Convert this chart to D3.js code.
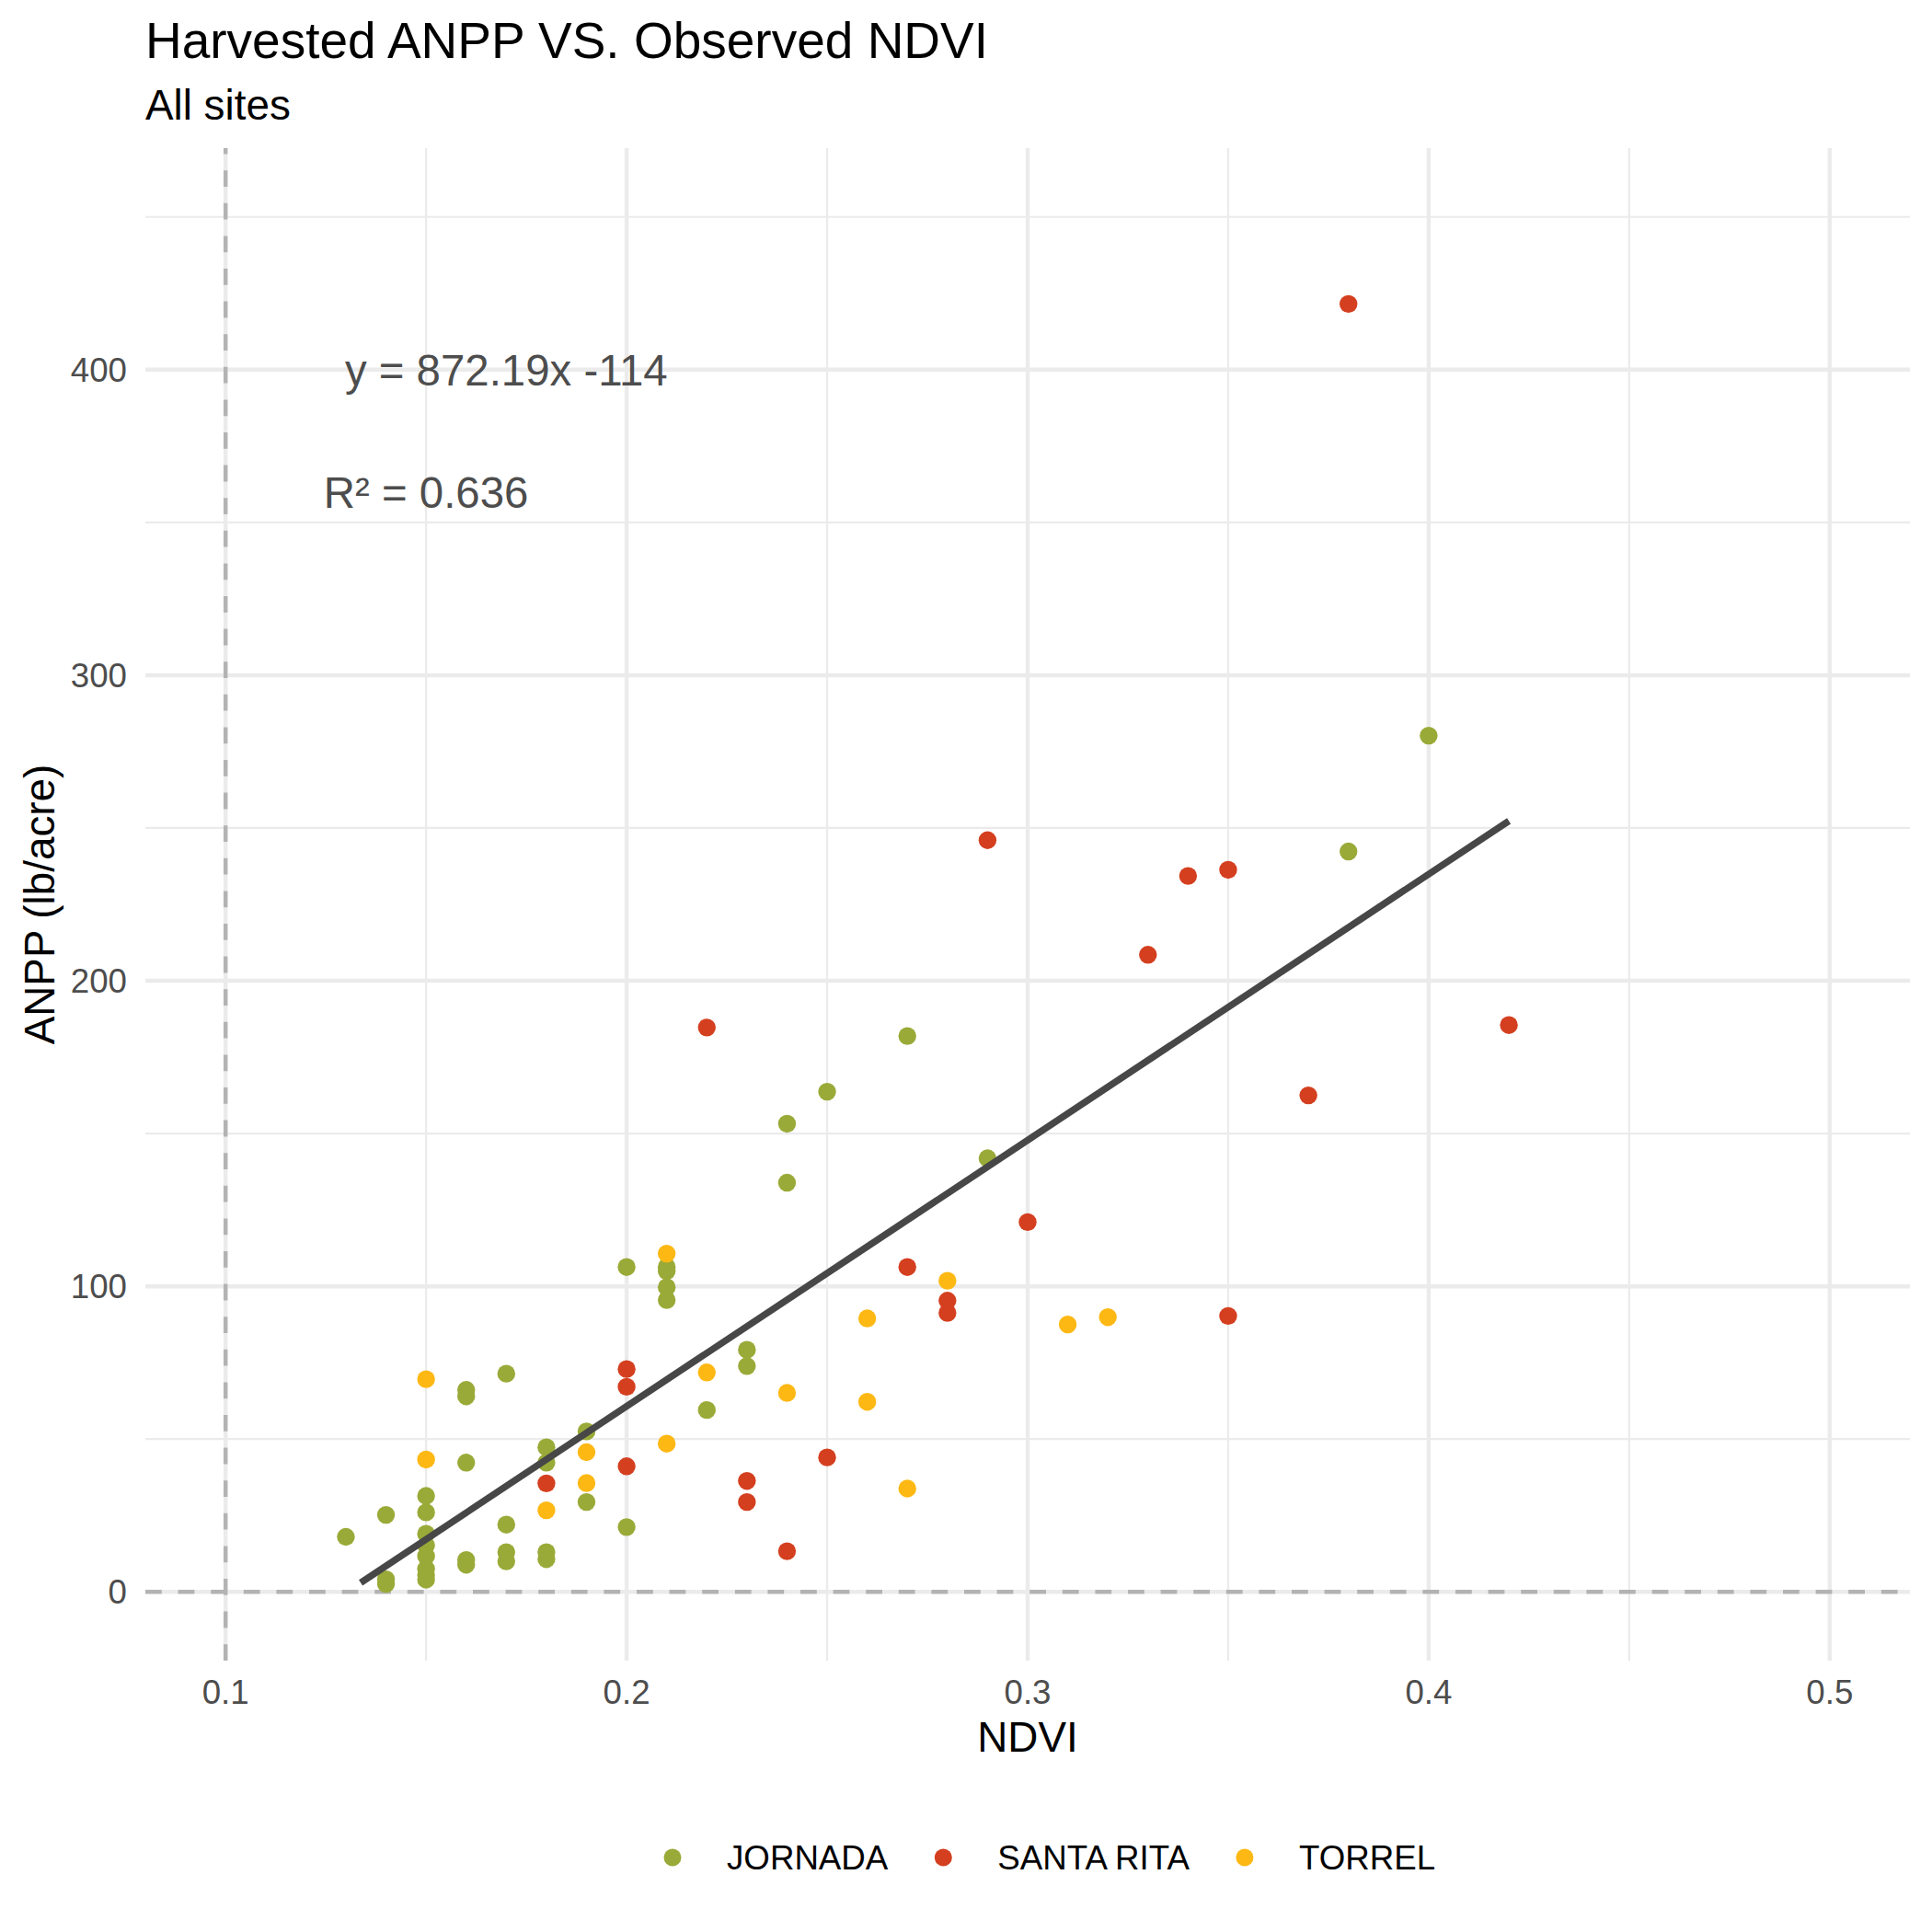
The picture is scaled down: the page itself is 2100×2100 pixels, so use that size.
<!DOCTYPE html>
<html>
<head>
<meta charset="utf-8">
<script src="https://cdn.jsdelivr.net/npm/d3@7"></script>
<style>
  body { margin: 0; background: #fff; }
  text { font-family: "Liberation Sans", Arial, sans-serif; }
</style>
</head>
<body>
<div id="chart"></div>
<script>

// Data

var sites = ["JORNADA", "SANTA RITA", "TORREL"];
var siteColors = ["#9AAA38", "#D43F1F", "#FDB813"];

var jornadaNdvi = [0.13, 0.14, 0.14, 0.14, 0.15, 0.15, 0.15, 0.15, 0.15, 0.15, 0.15, 0.15,
    0.16, 0.16, 0.16, 0.16, 0.16, 0.17, 0.17, 0.17, 0.17, 0.18, 0.18, 0.18, 0.18,
    0.19, 0.19, 0.20, 0.20, 0.21, 0.21, 0.21, 0.21, 0.22, 0.23, 0.23, 0.24, 0.24,
    0.25, 0.27, 0.29, 0.38, 0.40];
var jornadaAnpp = [18, 25.2, 4.1, 2.6, 31.4, 26, 19, 15.2, 11.7, 7.5, 5.5, 4,
    66.1, 64, 42.3, 10.4, 8.9, 71.4, 22, 13, 10, 47.3, 42.3, 13, 10.7,
    52.5, 29.4, 106.3, 21.2, 106.3, 105, 99.7, 95.5, 59.5, 79.2, 73.9, 153.2, 133.9,
    163.7, 181.9, 141.9, 242.3, 280.2];

var santaRitaNdvi = [0.18, 0.20, 0.20, 0.20, 0.22, 0.23, 0.23, 0.24, 0.25, 0.27, 0.28,
    0.28, 0.29, 0.30, 0.33, 0.34, 0.35, 0.35, 0.37, 0.38, 0.42];
var santaRitaAnpp = [35.5, 72.9, 67.1, 41.1, 184.7, 36.3, 29.4, 13.3, 44.0, 106.3, 95.3,
    91.3, 246.0, 121.0, 208.5, 234.3, 236.3, 90.3, 162.5, 421.5, 185.5];

var torrelNdvi = [0.15, 0.15, 0.18, 0.19, 0.19, 0.21, 0.21, 0.22, 0.24, 0.26, 0.26,
    0.27, 0.28, 0.31, 0.32];
var torrelAnpp = [69.6, 43.3, 26.7, 45.7, 35.6, 110.7, 48.5, 71.8, 65.1, 89.5, 62.2,
    33.8, 101.8, 87.5, 89.9];

// Fitted line end points (y = 872.19x - 114)
var fitNdvi = [0.1337, 0.42];
var fitAnpp = [3.0, 252.3];

var xTicks = [0.1, 0.2, 0.3, 0.4, 0.5];
var xMinor = [0.15, 0.25, 0.35, 0.45];
var yTicks = [0, 100, 200, 300, 400];
var yMinor = [50, 150, 250, 350, 450];

var eqLabel = "y = 872.19x -114";
var eqPos = [0.17, 400];
var r2Label = "R\u00B2 = 0.636";
var r2Pos = [0.15, 360];

// Build the plot

var width = 2100, height = 2100;
var panel = {left: 158, right: 2076, top: 161, bottom: 1805};

var svg = d3.select("#chart").append("svg")
    .attr("width", width)
    .attr("height", height);

svg.append("rect").attr("width", width).attr("height", height).attr("fill", "#fff");

var x = d3.scaleLinear().domain([0.08, 0.52]).range([panel.left, panel.right]);
var y = d3.scaleLinear().domain([-22.5, 472.5]).range([panel.bottom, panel.top]);

var grid = svg.append("g");

// minor grid
grid.selectAll(".xminor").data(xMinor).enter().append("line")
    .attr("x1", d => x(d)).attr("x2", d => x(d))
    .attr("y1", panel.top).attr("y2", panel.bottom)
    .attr("stroke", "#EBEBEB").attr("stroke-width", 2.2);
grid.selectAll(".yminor").data(yMinor).enter().append("line")
    .attr("y1", d => y(d)).attr("y2", d => y(d))
    .attr("x1", panel.left).attr("x2", panel.right)
    .attr("stroke", "#EBEBEB").attr("stroke-width", 2.2);

// major grid
grid.selectAll(".xmajor").data(xTicks).enter().append("line")
    .attr("x1", d => x(d)).attr("x2", d => x(d))
    .attr("y1", panel.top).attr("y2", panel.bottom)
    .attr("stroke", "#EBEBEB").attr("stroke-width", 4.45);
grid.selectAll(".ymajor").data(yTicks).enter().append("line")
    .attr("y1", d => y(d)).attr("y2", d => y(d))
    .attr("x1", panel.left).attr("x2", panel.right)
    .attr("stroke", "#EBEBEB").attr("stroke-width", 4.45);

// dashed reference lines
svg.append("line")
    .attr("x1", panel.left).attr("x2", panel.right)
    .attr("y1", y(0)).attr("y2", y(0))
    .attr("stroke", "#B3B3B3").attr("stroke-width", 4.45)
    .attr("stroke-dasharray", "17.8,17.8");
svg.append("line")
    .attr("x1", x(0.1)).attr("x2", x(0.1))
    .attr("y1", panel.bottom).attr("y2", panel.top)
    .attr("stroke", "#B3B3B3").attr("stroke-width", 4.45)
    .attr("stroke-dasharray", "17.8,17.8");

// tick labels
svg.selectAll(".xlab").data(xTicks).enter().append("text")
    .attr("x", d => x(d)).attr("y", 1852)
    .attr("text-anchor", "middle")
    .attr("font-size", 36.7).attr("fill", "#4D4D4D")
    .text(d => d3.format(".1f")(d));
svg.selectAll(".ylab").data(yTicks).enter().append("text")
    .attr("x", 138).attr("y", d => y(d))
    .attr("dy", "0.36em")
    .attr("text-anchor", "end")
    .attr("font-size", 36.7).attr("fill", "#4D4D4D")
    .text(d => d);

// points
var siteData = [
    d3.zip(jornadaNdvi, jornadaAnpp),
    d3.zip(santaRitaNdvi, santaRitaAnpp),
    d3.zip(torrelNdvi, torrelAnpp)
];

siteData.forEach((pts, i) => {
    svg.append("g").selectAll("circle").data(pts).enter().append("circle")
        .attr("cx", d => x(d[0]))
        .attr("cy", d => y(d[1]))
        .attr("r", 9.7)
        .attr("fill", siteColors[i]);
});

// regression line
svg.append("path")
    .datum(d3.zip(fitNdvi, fitAnpp))
    .attr("d", d3.line().x(d => x(d[0])).y(d => y(d[1])))
    .attr("stroke", "#474747")
    .attr("stroke-width", 7.4)
    .attr("fill", "none");

// equation annotations
svg.append("text")
    .attr("x", x(eqPos[0])).attr("y", y(eqPos[1]))
    .attr("dy", "0.36em").attr("text-anchor", "middle")
    .attr("font-size", 47.4).attr("fill", "#4D4D4D")
    .text(eqLabel);
svg.append("text")
    .attr("x", x(r2Pos[0])).attr("y", y(r2Pos[1]))
    .attr("dy", "0.36em").attr("text-anchor", "middle")
    .attr("font-size", 47.4).attr("fill", "#4D4D4D")
    .text(r2Label);

// titles
svg.append("text")
    .attr("x", 158).attr("y", 63)
    .attr("font-size", 55).attr("fill", "#000")
    .text("Harvested ANPP VS. Observed NDVI");
svg.append("text")
    .attr("x", 158).attr("y", 130)
    .attr("font-size", 45.8).attr("fill", "#000")
    .text("All sites");

svg.append("text")
    .attr("x", (panel.left + panel.right) / 2).attr("y", 1904)
    .attr("text-anchor", "middle")
    .attr("font-size", 45.8).attr("fill", "#000")
    .text("NDVI");
svg.append("text")
    .attr("transform", "translate(59," + (panel.top + panel.bottom) / 2 + ") rotate(-90)")
    .attr("text-anchor", "middle")
    .attr("font-size", 45.8).attr("fill", "#000")
    .text("ANPP (lb/acre)");

// legend
var legend = svg.append("g");
var cursor = 731;
sites.forEach((name, i) => {
    legend.append("circle")
        .attr("cx", cursor).attr("cy", 2019)
        .attr("r", 9.5).attr("fill", siteColors[i]);
    var t = legend.append("text")
        .attr("x", cursor + 59).attr("y", 2032)
        .attr("font-size", 36.7).attr("fill", "#000")
        .text(name);
    cursor = cursor + 59 + t.node().getComputedTextLength() + 60;
});

</script>
</body>
</html>
